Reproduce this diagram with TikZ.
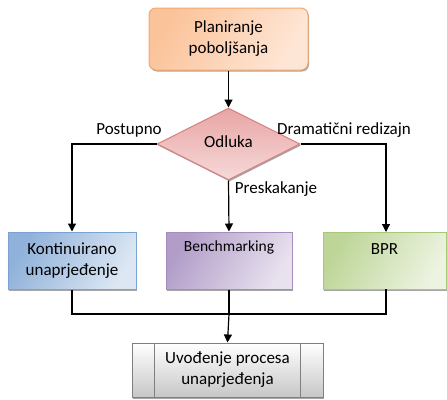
\documentclass[tikz,border=0pt]{standalone}
\usepackage{fontspec}
\setmainfont{Carlito}
\usetikzlibrary{shapes.geometric,shapes.multipart,shapes.misc,arrows.meta,shadows}
\definecolor{orB}{HTML}{F7A66B}
\definecolor{orD}{HTML}{FBC39A}
\definecolor{orL}{HTML}{FEE6D6}
\definecolor{rdB}{HTML}{D9807E}
\definecolor{rdD}{HTML}{E8A5A4}
\definecolor{rdL}{HTML}{F6D9D9}
\definecolor{blB}{HTML}{7AA3D2}
\definecolor{blD}{HTML}{8FB1DA}
\definecolor{blL}{HTML}{DCE7F3}
\definecolor{puB}{HTML}{A68BBF}
\definecolor{puD}{HTML}{B19DC8}
\definecolor{puL}{HTML}{E8E1EE}
\definecolor{grB}{HTML}{A7C878}
\definecolor{grD}{HTML}{BDD597}
\definecolor{grL}{HTML}{ECF3E0}
\definecolor{gyB}{HTML}{7F7F7F}
\begin{document}
\begin{tikzpicture}[x=1pt,y=-1pt,
  every node/.style={font=\fontsize{17}{21}\selectfont, align=center, inner sep=0pt},
  boxsh/.style={drop shadow={shadow xshift=1pt,shadow yshift=-1.5pt,fill=black,opacity=0.35}},
  stepbox/.style={rectangle, draw, line width=1pt, boxsh},
  conn/.style={line width=1.2pt, black},
  arr/.style={conn, -{Triangle[width=8pt,length=8pt]}},
  lbl/.style={font=\fontsize{17}{21}\selectfont}
]
\useasboundingbox (0,0) rectangle (447,399);
% top box
\node[stepbox, rounded corners=7pt, draw=orB, left color=orD, right color=orL, shading angle=60,
  minimum width=159pt, minimum height=62pt] (plan) at (228.5,39) {Planiranje\\poboljšanja};
% diamond
\node[diamond, draw=rdB, line width=1pt, boxsh, top color=rdD, bottom color=rdL,
  minimum width=143pt, minimum height=72pt, aspect=2] (odl) at (228.5,144) {};
\node (odlt) at (228.5,142) {Odluka};
% three boxes
\node[stepbox, draw=blB, left color=blD, right color=blL, shading angle=60,
  minimum width=128pt, minimum height=57pt] (kon) at (72,260.5) {Kontinuirano\\unaprjeđenje};
\node[stepbox, draw=puB, left color=puD, right color=puL, shading angle=60,
  minimum width=126pt, minimum height=57pt] (ben) at (229,260.5) {};
\node (bent) at (229,247) {\fontsize{15.5}{19}\selectfont Benchmarking};
\node[stepbox, draw=grB, left color=grD, right color=grL, shading angle=60,
  minimum width=123pt, minimum height=57pt] (bpr) at (384.5,260.5) {};
\node (bprt) at (384.5,249) {BPR};
% bottom box
\node[stepbox, draw=gyB, top color=white, bottom color=black!22,
  minimum width=191pt, minimum height=54pt] (uvo) at (227.5,370) {Uvođenje procesa\\unaprjeđenja};
\draw[gyB, line width=1pt] ([xshift=23pt]uvo.north west) -- ([xshift=23pt]uvo.south west);
\draw[gyB, line width=1pt] ([xshift=-23pt]uvo.north east) -- ([xshift=-23pt]uvo.south east);
% connectors
\draw[arr] (plan.south) -- (odl.north);
\draw[arr] (odl.west) -| (kon.north);
\draw[arr] (odl.east) -| (386,232);
\draw[arr] (odl.south) -- (ben.north);
\coordinate (j) at (229,314);
\draw[conn] (kon.south) |- (j);
\draw[conn] (386,289) |- (j);
\draw[conn] (ben.south) -- (j);
\draw[arr] (j) -- (uvo.north);
% labels
\node[lbl] (l1) at (129,130) {Postupno};
\node[lbl] (l2) at (344,130) {Dramatični redizajn};
\node[lbl] (l3) at (276,189) {Preskakanje};
\end{tikzpicture}
\end{document}
